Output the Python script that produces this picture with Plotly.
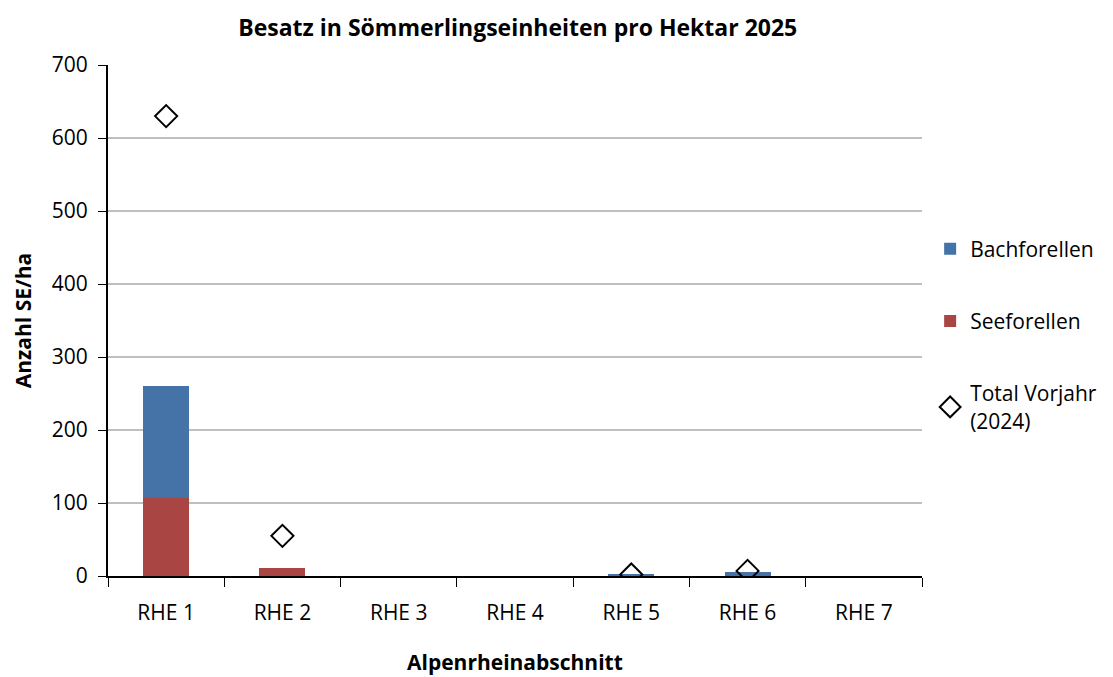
import plotly.graph_objects as go

categories = ["RHE 1", "RHE 2", "RHE 3", "RHE 4", "RHE 5", "RHE 6", "RHE 7"]
seeforellen = [107, 11, 0, 0, 0, 0, 0]
bachforellen = [153, 0, 0, 0, 2, 5, 0]
total_vorjahr = [630, 55, None, None, 2, 7, None]

FONT = "Open Sans"

fig = go.Figure()
fig.add_trace(go.Bar(x=categories, y=seeforellen, name="Seeforellen", legendgroup="b",
                     marker=dict(color="#A94643", line=dict(width=0)), legendrank=2))
fig.add_trace(go.Bar(x=categories, y=bachforellen, name="Bachforellen", legendgroup="a",
                     marker=dict(color="#4573A7", line=dict(width=0)), legendrank=1))
fig.add_trace(go.Scatter(x=categories, y=total_vorjahr, mode="markers", legendgroup="c",
                         name="Total Vorjahr<br>(2024)",
                         marker=dict(symbol="diamond-open", size=17, color="black",
                                     line=dict(width=2, color="black")), legendrank=3))

fig.update_layout(
    barmode="stack",
    bargap=0.605,
    width=1113, height=677,
    paper_bgcolor="white", plot_bgcolor="white",
    font=dict(family=FONT, size=21, color="black"),
    margin=dict(l=100, r=199, t=56.5, b=109),
    title=dict(text="<b>Besatz in Sömmerlingseinheiten pro Hektar 2025</b>",
               x=0.458, xanchor="center", y=0.983, yanchor="top",
               font=dict(size=23, family=FONT)),
    legend=dict(x=1.01, y=0.68, xanchor="left", yanchor="top",
                traceorder="grouped", tracegroupgap=42,
                font=dict(size=21), itemwidth=30),
    xaxis=dict(showline=True, linecolor="black", linewidth=2,
               ticks="outside", tickson="boundaries", ticklen=9, tickcolor="black",
               ticklabelstandoff=17, showgrid=False),
    yaxis=dict(title=dict(text="<b>Anzahl SE/ha</b>", standoff=14, font=dict(size=21)),
               range=[0, 700], dtick=100, ticklabelstandoff=6,
               showline=True, linecolor="black", linewidth=2,
               ticks="outside", ticklen=8, tickcolor="black",
               showgrid=True, gridcolor="#BFBFBF", gridwidth=1.5, zeroline=False),
    annotations=[dict(text="<b>Alpenrheinabschnitt</b>", xref="paper", yref="paper",
                      x=0.5, y=-0.168, xanchor="center", yanchor="middle",
                      showarrow=False, font=dict(size=21))],
)

fig.write_html("out.html")
